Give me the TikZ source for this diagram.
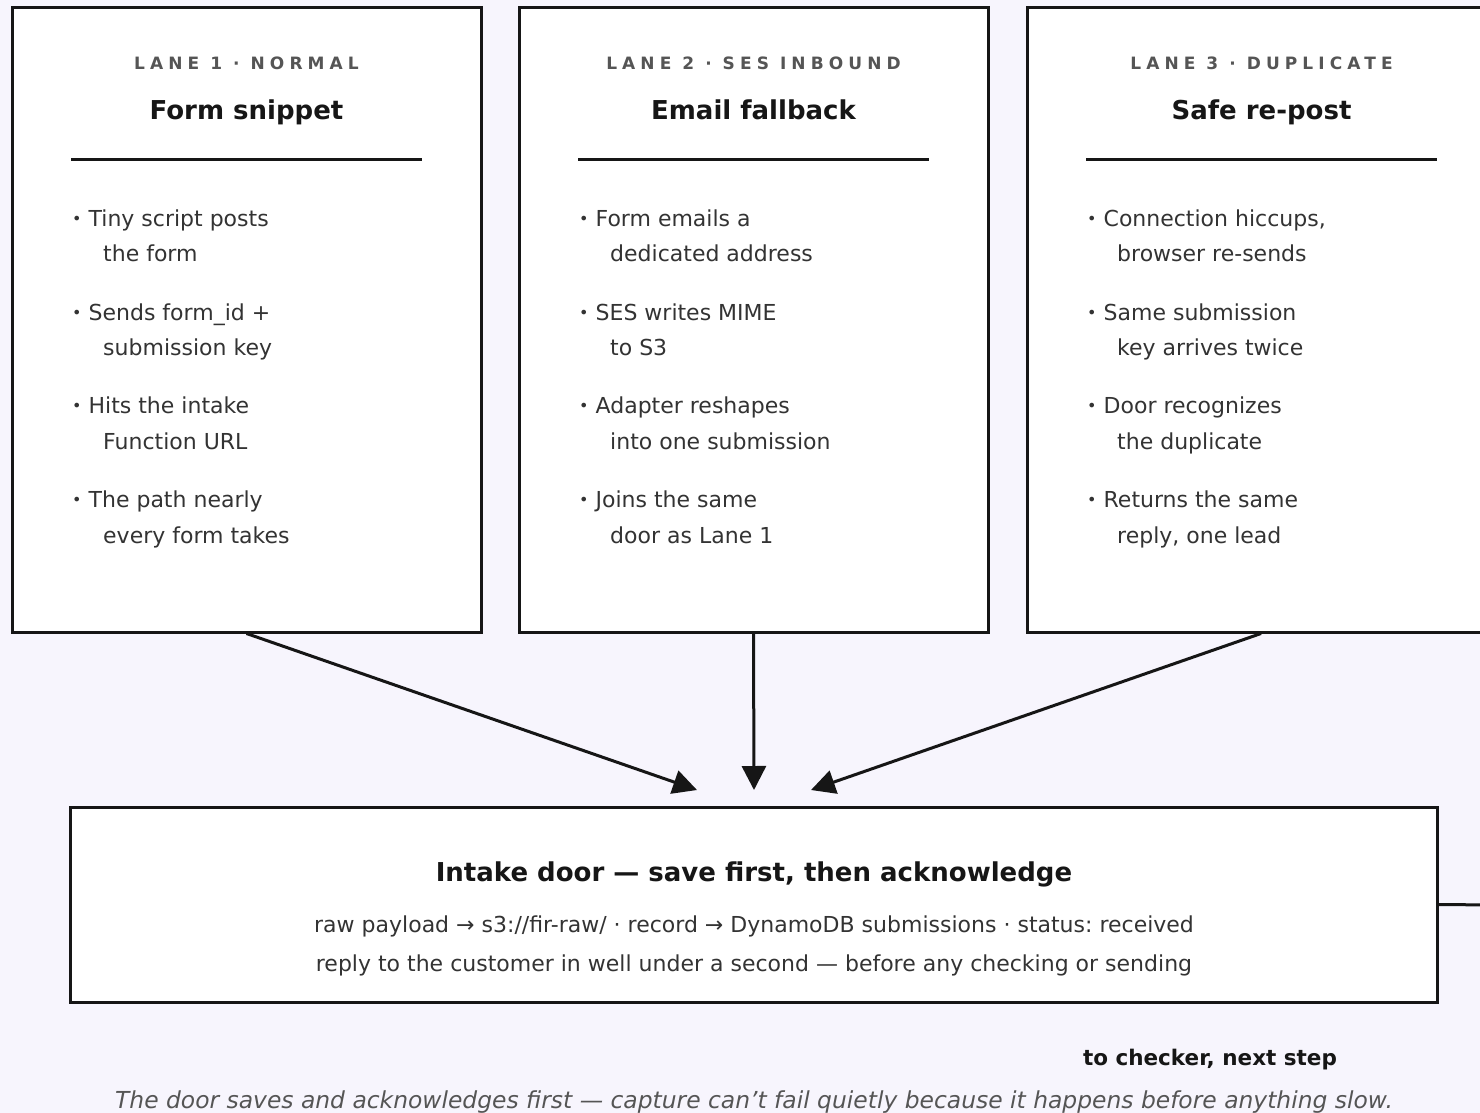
\documentclass[tikz,border=0pt]{standalone}
\usepackage{fontspec}
\setmainfont{DejaVu Sans}
\newfontfamily\symfont{DejaVu Sans}
\usetikzlibrary{arrows.meta}
\frenchspacing
\definecolor{bg}{HTML}{F7F5FD}
\definecolor{ink}{HTML}{161616}
\definecolor{body}{HTML}{333333}
\definecolor{hdr}{HTML}{555555}
\newcommand{\arr}{{\symfont →}}
\newcommand{\bul}{\raisebox{0.1ex}{\fontsize{16}{16}\selectfont•}\hspace{7pt}}
\tikzset{
  lanebox/.style={draw=ink, line width=3pt, fill=white, minimum width=469pt, minimum height=624pt, inner sep=0pt},
  doorbox/.style={draw=ink, line width=3pt, fill=white, minimum width=1367pt, minimum height=195pt, inner sep=0pt},
  lanehdr/.style={text=hdr, font=\fontsize{17}{20}\selectfont\bfseries\addfontfeatures{LetterSpace=30}, inner sep=0pt, anchor=base},
  lanettl/.style={text=ink, font=\fontsize{26}{32}\selectfont\bfseries, inner sep=0pt, anchor=base},
  rulel/.style={draw=ink, line width=3pt},
  btext/.style={text=body, font=\fontsize{22}{26}\selectfont, inner sep=0pt, anchor=base west},
  flow/.style={draw=ink, line width=3pt, -{Triangle[length=24pt,width=24pt]}},
}
\begin{document}
\begin{tikzpicture}[x=1pt,y=-1pt]
\fill[bg] (0,0) rectangle (1480,1113);
\useasboundingbox (0,0) rectangle (1480,1113);
\clip (0,0) rectangle (1480,1113);

% lanes
\node[lanebox] (lane1) at (246.5,320) {};
\node[lanebox] (lane2) at (753.5,320) {};
\node[lanebox] (lane3) at (1261.5,320) {};

\node[lanehdr] (h1) at (246.5,70) {LANE 1 · NORMAL};
\node[lanehdr] (h2) at (753.5,70) {LANE 2 · SES INBOUND};
\node[lanehdr] (h3) at (1261.5,70) {LANE 3 · DUPLICATE};

\node[lanettl] (t1) at (246.5,120) {Form snippet};
\node[lanettl] (t2) at (753.5,120) {Email fallback};
\node[lanettl] (t3) at (1261.5,120) {Safe re-post};

\coordinate (r1a) at (71,159); \coordinate (r1b) at (422,159);
\coordinate (r2a) at (578,159); \coordinate (r2b) at (929,159);
\coordinate (r3a) at (1086,159); \coordinate (r3b) at (1437,159);
\draw[rulel] (r1a) -- (r1b);
\draw[rulel] (r2a) -- (r2b);
\draw[rulel] (r3a) -- (r3b);

% bullets lane 1
\node[btext] (l1a1) at (72,226) {\bul Tiny script posts};
\node[btext] (l1a2) at (103,261) {the form};
\node[btext] (l1b1) at (72,320) {\bul Sends form\_id +};
\node[btext] (l1b2) at (103,355) {submission key};
\node[btext] (l1c1) at (72,413) {\bul Hits the intake};
\node[btext] (l1c2) at (103,449) {Function URL};
\node[btext] (l1d1) at (72,507) {\bul The path nearly};
\node[btext] (l1d2) at (103,543) {every form takes};
% bullets lane 2
\node[btext] (l2a1) at (579,226) {\bul Form emails a};
\node[btext] (l2a2) at (610,261) {dedicated address};
\node[btext] (l2b1) at (579,320) {\bul SES writes MIME};
\node[btext] (l2b2) at (610,355) {to S3};
\node[btext] (l2c1) at (579,413) {\bul Adapter reshapes};
\node[btext] (l2c2) at (610,449) {into one submission};
\node[btext] (l2d1) at (579,507) {\bul Joins the same};
\node[btext] (l2d2) at (610,543) {door as Lane 1};
% bullets lane 3
\node[btext] (l3a1) at (1087,226) {\bul Connection hiccups,};
\node[btext] (l3a2) at (1117,261) {browser re-sends};
\node[btext] (l3b1) at (1087,320) {\bul Same submission};
\node[btext] (l3b2) at (1117,355) {key arrives twice};
\node[btext] (l3c1) at (1087,413) {\bul Door recognizes};
\node[btext] (l3c2) at (1117,449) {the duplicate};
\node[btext] (l3d1) at (1087,507) {\bul Returns the same};
\node[btext] (l3d2) at (1117,543) {reply, one lead};

% intake door
\node[doorbox] (door) at (753.5,904.5) {};
\node[text=ink, font=\fontsize{26}{32}\selectfont\bfseries, inner sep=0pt, anchor=base] (dt) at (754,881) {Intake door — save first, then acknowledge};
\node[text=body, font=\fontsize{22}{26}\selectfont, inner sep=0pt, anchor=base] (d1) at (754,932) {raw payload \arr\ s3://fir-raw/ · record \arr\ DynamoDB submissions · status: received};
\node[text=body, font=\fontsize{22}{26}\selectfont, inner sep=0pt, anchor=base] (d2) at (754,971) {reply to the customer in well under a second — before any checking or sending};

% connectors
\coordinate (in1) at (697,790);
\coordinate (in2) at (754,790);
\coordinate (in3) at (811,790);
\draw[flow] (lane1.south) -- (in1);
\draw[flow] (lane2.south) -- (in2);
\draw[flow] ([xshift=-0.5pt]lane3.south) -- (in3);
\coordinate (out) at (1495,905);
\draw[draw=ink, line width=3pt] (door.east) -- (out);

\node[text=ink, font=\fontsize{21.5}{25}\selectfont\bfseries, inner sep=0pt, anchor=base] (next) at (1210,1065) {to checker, next step};
\node[text=hdr, font=\fontsize{23.4}{27}\selectfont\itshape, inner sep=0pt, anchor=base] (cap) at (754,1108) {The door saves and acknowledges first — capture can’t fail quietly because it happens before anything slow.};
\end{tikzpicture}
\end{document}
